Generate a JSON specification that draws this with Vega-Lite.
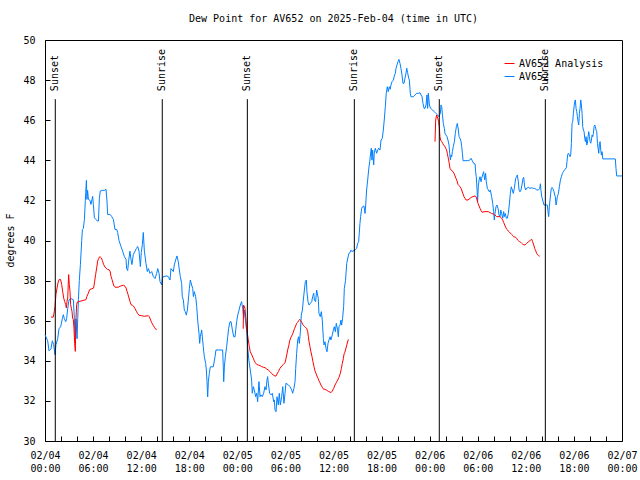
{
  "$schema": "https://vega.github.io/schema/vega-lite/v6.json",
  "width": 577,
  "height": 401,
  "autosize": {"type": "none"},
  "padding": {"left": 45, "top": 40, "right": 18, "bottom": 39},
  "background": "white",
  "config": {
    "font": "DejaVu Sans Mono",
    "view": {"stroke": "black", "strokeWidth": 1},
    "axis": {"labelFont": "DejaVu Sans Mono", "labelFontSize": 10, "labelColor": "black", "tickColor": "black", "tickSize": -5, "grid": false, "domain": false, "titleFont": "DejaVu Sans Mono", "titleFontSize": 10, "titleFontWeight": "normal", "titleColor": "black"},
    "legend": {"labelFont": "DejaVu Sans Mono", "labelFontSize": 10, "labelColor": "black"}
  },
  "title": {"text": "Dew Point for AV652 on 2025-Feb-04 (time in UTC)", "font": "DejaVu Sans Mono", "fontSize": 10, "fontWeight": "normal", "color": "black", "anchor": "middle", "offset": 11},
  "datasets": {
    "analysis": [
      {"seg": 1, "t": "2025-02-04T00:45Z", "v": 36.18}, {"seg": 1, "t": "2025-02-04T01:02Z", "v": 36.18}, {"seg": 1, "t": "2025-02-04T01:10Z", "v": 36.47}, {"seg": 1, "t": "2025-02-04T01:15Z", "v": 36.72}, {"seg": 1, "t": "2025-02-04T01:22Z", "v": 37.3}, {"seg": 1, "t": "2025-02-04T01:30Z", "v": 37.63}, {"seg": 1, "t": "2025-02-04T01:37Z", "v": 37.88}, {"seg": 1, "t": "2025-02-04T01:45Z", "v": 38.05}, {"seg": 1, "t": "2025-02-04T01:57Z", "v": 38.05}, {"seg": 1, "t": "2025-02-04T02:05Z", "v": 37.8}, {"seg": 1, "t": "2025-02-04T02:12Z", "v": 37.47}, {"seg": 1, "t": "2025-02-04T02:20Z", "v": 37.13}, {"seg": 1, "t": "2025-02-04T02:27Z", "v": 36.97}, {"seg": 1, "t": "2025-02-04T02:35Z", "v": 36.8}, {"seg": 1, "t": "2025-02-04T02:40Z", "v": 36.63}, {"seg": 1, "t": "2025-02-04T02:45Z", "v": 36.97}, {"seg": 1, "t": "2025-02-04T02:50Z", "v": 37.13}, {"seg": 1, "t": "2025-02-04T02:57Z", "v": 38.3}, {"seg": 1, "t": "2025-02-04T03:02Z", "v": 37.8}, {"seg": 1, "t": "2025-02-04T03:07Z", "v": 37.47}, {"seg": 1, "t": "2025-02-04T03:12Z", "v": 36.8}, {"seg": 1, "t": "2025-02-04T03:17Z", "v": 36.63}, {"seg": 1, "t": "2025-02-04T03:22Z", "v": 36.47}, {"seg": 1, "t": "2025-02-04T03:27Z", "v": 36.13}, {"seg": 1, "t": "2025-02-04T03:32Z", "v": 36.05}, {"seg": 1, "t": "2025-02-04T03:37Z", "v": 35.63}, {"seg": 1, "t": "2025-02-04T03:42Z", "v": 34.88}, {"seg": 1, "t": "2025-02-04T03:47Z", "v": 34.47}, {"seg": 1, "t": "2025-02-04T03:52Z", "v": 36.13}, {"seg": 1, "t": "2025-02-04T03:57Z", "v": 36.8}, {"seg": 1, "t": "2025-02-04T04:02Z", "v": 36.93}, {"seg": 1, "t": "2025-02-04T05:07Z", "v": 37.05}, {"seg": 1, "t": "2025-02-04T05:14Z", "v": 37.22}, {"seg": 1, "t": "2025-02-04T05:25Z", "v": 37.38}, {"seg": 1, "t": "2025-02-04T05:34Z", "v": 37.55}, {"seg": 1, "t": "2025-02-04T06:04Z", "v": 37.63}, {"seg": 1, "t": "2025-02-04T06:12Z", "v": 37.97}, {"seg": 1, "t": "2025-02-04T06:19Z", "v": 38.3}, {"seg": 1, "t": "2025-02-04T06:27Z", "v": 38.63}, {"seg": 1, "t": "2025-02-04T06:34Z", "v": 38.97}, {"seg": 1, "t": "2025-02-04T06:42Z", "v": 39.1}, {"seg": 1, "t": "2025-02-04T06:47Z", "v": 39.18}, {"seg": 1, "t": "2025-02-04T06:54Z", "v": 39.18}, {"seg": 1, "t": "2025-02-04T07:02Z", "v": 39.13}, {"seg": 1, "t": "2025-02-04T07:09Z", "v": 39.0}, {"seg": 1, "t": "2025-02-04T07:19Z", "v": 38.8}, {"seg": 1, "t": "2025-02-04T07:29Z", "v": 38.67}, {"seg": 1, "t": "2025-02-04T07:49Z", "v": 38.55}, {"seg": 1, "t": "2025-02-04T07:59Z", "v": 38.55}, {"seg": 1, "t": "2025-02-04T08:07Z", "v": 38.47}, {"seg": 1, "t": "2025-02-04T08:14Z", "v": 38.22}, {"seg": 1, "t": "2025-02-04T08:22Z", "v": 38.05}, {"seg": 1, "t": "2025-02-04T08:29Z", "v": 37.88}, {"seg": 1, "t": "2025-02-04T08:37Z", "v": 37.72}, {"seg": 1, "t": "2025-02-04T08:44Z", "v": 37.67}, {"seg": 1, "t": "2025-02-04T09:09Z", "v": 37.67}, {"seg": 1, "t": "2025-02-04T09:22Z", "v": 37.72}, {"seg": 1, "t": "2025-02-04T09:47Z", "v": 37.77}, {"seg": 1, "t": "2025-02-04T09:59Z", "v": 37.72}, {"seg": 1, "t": "2025-02-04T10:07Z", "v": 37.63}, {"seg": 1, "t": "2025-02-04T10:14Z", "v": 37.47}, {"seg": 1, "t": "2025-02-04T10:22Z", "v": 37.3}, {"seg": 1, "t": "2025-02-04T10:29Z", "v": 37.13}, {"seg": 1, "t": "2025-02-04T10:36Z", "v": 36.97}, {"seg": 1, "t": "2025-02-04T10:44Z", "v": 36.8}, {"seg": 1, "t": "2025-02-04T10:54Z", "v": 36.77}, {"seg": 1, "t": "2025-02-04T11:04Z", "v": 36.72}, {"seg": 1, "t": "2025-02-04T11:14Z", "v": 36.6}, {"seg": 1, "t": "2025-02-04T11:24Z", "v": 36.47}, {"seg": 1, "t": "2025-02-04T11:34Z", "v": 36.35}, {"seg": 1, "t": "2025-02-04T11:44Z", "v": 36.27}, {"seg": 1, "t": "2025-02-04T12:04Z", "v": 36.25}, {"seg": 1, "t": "2025-02-04T12:24Z", "v": 36.22}, {"seg": 1, "t": "2025-02-04T12:54Z", "v": 36.25}, {"seg": 1, "t": "2025-02-04T13:01Z", "v": 36.2}, {"seg": 1, "t": "2025-02-04T13:11Z", "v": 36.03}, {"seg": 1, "t": "2025-02-04T13:19Z", "v": 35.9}, {"seg": 1, "t": "2025-02-04T13:29Z", "v": 35.78}, {"seg": 1, "t": "2025-02-04T13:39Z", "v": 35.67}, {"seg": 1, "t": "2025-02-04T13:49Z", "v": 35.57}, {"seg": 1, "t": "2025-02-04T13:56Z", "v": 35.57},
      {"seg": 2, "t": "2025-02-05T00:44Z", "v": 35.6}, {"seg": 2, "t": "2025-02-05T00:47Z", "v": 36.78}, {"seg": 2, "t": "2025-02-05T00:57Z", "v": 36.62}, {"seg": 2, "t": "2025-02-05T01:05Z", "v": 36.03}, {"seg": 2, "t": "2025-02-05T01:10Z", "v": 35.54}, {"seg": 2, "t": "2025-02-05T01:15Z", "v": 35.37}, {"seg": 2, "t": "2025-02-05T01:22Z", "v": 35.04}, {"seg": 2, "t": "2025-02-05T01:30Z", "v": 34.7}, {"seg": 2, "t": "2025-02-05T01:37Z", "v": 34.45}, {"seg": 2, "t": "2025-02-05T01:45Z", "v": 34.34}, {"seg": 2, "t": "2025-02-05T01:52Z", "v": 34.24}, {"seg": 2, "t": "2025-02-05T02:00Z", "v": 34.12}, {"seg": 2, "t": "2025-02-05T02:07Z", "v": 34.0}, {"seg": 2, "t": "2025-02-05T02:15Z", "v": 33.9}, {"seg": 2, "t": "2025-02-05T02:25Z", "v": 33.82}, {"seg": 2, "t": "2025-02-05T02:37Z", "v": 33.79}, {"seg": 2, "t": "2025-02-05T02:50Z", "v": 33.76}, {"seg": 2, "t": "2025-02-05T03:02Z", "v": 33.71}, {"seg": 2, "t": "2025-02-05T03:14Z", "v": 33.68}, {"seg": 2, "t": "2025-02-05T03:27Z", "v": 33.66}, {"seg": 2, "t": "2025-02-05T03:40Z", "v": 33.59}, {"seg": 2, "t": "2025-02-05T03:52Z", "v": 33.54}, {"seg": 2, "t": "2025-02-05T04:05Z", "v": 33.46}, {"seg": 2, "t": "2025-02-05T04:17Z", "v": 33.37}, {"seg": 2, "t": "2025-02-05T04:29Z", "v": 33.29}, {"seg": 2, "t": "2025-02-05T04:42Z", "v": 33.24}, {"seg": 2, "t": "2025-02-05T04:49Z", "v": 33.24}, {"seg": 2, "t": "2025-02-05T04:57Z", "v": 33.34}, {"seg": 2, "t": "2025-02-05T05:07Z", "v": 33.46}, {"seg": 2, "t": "2025-02-05T05:19Z", "v": 33.62}, {"seg": 2, "t": "2025-02-05T05:32Z", "v": 33.74}, {"seg": 2, "t": "2025-02-05T05:44Z", "v": 33.81}, {"seg": 2, "t": "2025-02-05T05:57Z", "v": 33.91}, {"seg": 2, "t": "2025-02-05T06:02Z", "v": 34.04}, {"seg": 2, "t": "2025-02-05T06:10Z", "v": 34.29}, {"seg": 2, "t": "2025-02-05T06:17Z", "v": 34.54}, {"seg": 2, "t": "2025-02-05T06:25Z", "v": 34.75}, {"seg": 2, "t": "2025-02-05T06:32Z", "v": 35.0}, {"seg": 2, "t": "2025-02-05T06:40Z", "v": 35.15}, {"seg": 2, "t": "2025-02-05T06:47Z", "v": 35.24}, {"seg": 2, "t": "2025-02-05T06:54Z", "v": 35.34}, {"seg": 2, "t": "2025-02-05T07:02Z", "v": 35.49}, {"seg": 2, "t": "2025-02-05T07:09Z", "v": 35.62}, {"seg": 2, "t": "2025-02-05T07:17Z", "v": 35.74}, {"seg": 2, "t": "2025-02-05T07:24Z", "v": 35.87}, {"seg": 2, "t": "2025-02-05T07:32Z", "v": 35.92}, {"seg": 2, "t": "2025-02-05T07:39Z", "v": 36.0}, {"seg": 2, "t": "2025-02-05T07:47Z", "v": 36.07}, {"seg": 2, "t": "2025-02-05T07:54Z", "v": 36.0}, {"seg": 2, "t": "2025-02-05T08:02Z", "v": 35.92}, {"seg": 2, "t": "2025-02-05T08:09Z", "v": 35.82}, {"seg": 2, "t": "2025-02-05T08:17Z", "v": 35.75}, {"seg": 2, "t": "2025-02-05T08:24Z", "v": 35.7}, {"seg": 2, "t": "2025-02-05T08:32Z", "v": 35.65}, {"seg": 2, "t": "2025-02-05T08:39Z", "v": 35.62}, {"seg": 2, "t": "2025-02-05T08:47Z", "v": 35.45}, {"seg": 2, "t": "2025-02-05T08:52Z", "v": 35.2}, {"seg": 2, "t": "2025-02-05T08:57Z", "v": 34.95}, {"seg": 2, "t": "2025-02-05T09:04Z", "v": 34.7}, {"seg": 2, "t": "2025-02-05T09:11Z", "v": 34.45}, {"seg": 2, "t": "2025-02-05T09:19Z", "v": 34.21}, {"seg": 2, "t": "2025-02-05T09:26Z", "v": 33.96}, {"seg": 2, "t": "2025-02-05T09:34Z", "v": 33.71}, {"seg": 2, "t": "2025-02-05T09:41Z", "v": 33.51}, {"seg": 2, "t": "2025-02-05T09:49Z", "v": 33.37}, {"seg": 2, "t": "2025-02-05T09:56Z", "v": 33.24}, {"seg": 2, "t": "2025-02-05T10:04Z", "v": 33.13}, {"seg": 2, "t": "2025-02-05T10:11Z", "v": 33.01}, {"seg": 2, "t": "2025-02-05T10:19Z", "v": 32.9}, {"seg": 2, "t": "2025-02-05T10:26Z", "v": 32.79}, {"seg": 2, "t": "2025-02-05T10:36Z", "v": 32.68}, {"seg": 2, "t": "2025-02-05T10:46Z", "v": 32.58}, {"seg": 2, "t": "2025-02-05T10:56Z", "v": 32.58}, {"seg": 2, "t": "2025-02-05T11:09Z", "v": 32.53}, {"seg": 2, "t": "2025-02-05T11:21Z", "v": 32.48}, {"seg": 2, "t": "2025-02-05T11:34Z", "v": 32.44}, {"seg": 2, "t": "2025-02-05T11:41Z", "v": 32.41}, {"seg": 2, "t": "2025-02-05T11:51Z", "v": 32.49}, {"seg": 2, "t": "2025-02-05T12:01Z", "v": 32.62}, {"seg": 2, "t": "2025-02-05T12:11Z", "v": 32.79}, {"seg": 2, "t": "2025-02-05T12:21Z", "v": 32.91}, {"seg": 2, "t": "2025-02-05T12:31Z", "v": 33.04}, {"seg": 2, "t": "2025-02-05T12:41Z", "v": 33.17}, {"seg": 2, "t": "2025-02-05T12:51Z", "v": 33.37}, {"seg": 2, "t": "2025-02-05T12:59Z", "v": 33.62}, {"seg": 2, "t": "2025-02-05T13:06Z", "v": 33.87}, {"seg": 2, "t": "2025-02-05T13:14Z", "v": 34.12}, {"seg": 2, "t": "2025-02-05T13:19Z", "v": 34.34}, {"seg": 2, "t": "2025-02-05T13:24Z", "v": 34.4}, {"seg": 2, "t": "2025-02-05T13:40Z", "v": 34.8}, {"seg": 2, "t": "2025-02-05T13:51Z", "v": 35.07},
      {"seg": 3, "t": "2025-02-06T00:40Z", "v": 44.93}, {"seg": 3, "t": "2025-02-06T00:45Z", "v": 46.01}, {"seg": 3, "t": "2025-02-06T00:52Z", "v": 46.26}, {"seg": 3, "t": "2025-02-06T01:00Z", "v": 46.1}, {"seg": 3, "t": "2025-02-06T01:07Z", "v": 45.93}, {"seg": 3, "t": "2025-02-06T01:12Z", "v": 45.68}, {"seg": 3, "t": "2025-02-06T01:17Z", "v": 45.18}, {"seg": 3, "t": "2025-02-06T01:22Z", "v": 45.01}, {"seg": 3, "t": "2025-02-06T01:30Z", "v": 44.93}, {"seg": 3, "t": "2025-02-06T01:37Z", "v": 44.85}, {"seg": 3, "t": "2025-02-06T01:45Z", "v": 44.76}, {"seg": 3, "t": "2025-02-06T01:52Z", "v": 44.71}, {"seg": 3, "t": "2025-02-06T02:00Z", "v": 44.6}, {"seg": 3, "t": "2025-02-06T02:07Z", "v": 44.51}, {"seg": 3, "t": "2025-02-06T02:12Z", "v": 44.35}, {"seg": 3, "t": "2025-02-06T02:17Z", "v": 44.18}, {"seg": 3, "t": "2025-02-06T02:22Z", "v": 44.02}, {"seg": 3, "t": "2025-02-06T02:27Z", "v": 43.82}, {"seg": 3, "t": "2025-02-06T02:32Z", "v": 43.6}, {"seg": 3, "t": "2025-02-06T02:40Z", "v": 43.52}, {"seg": 3, "t": "2025-02-06T02:55Z", "v": 43.43}, {"seg": 3, "t": "2025-02-06T03:02Z", "v": 43.35}, {"seg": 3, "t": "2025-02-06T03:10Z", "v": 43.22}, {"seg": 3, "t": "2025-02-06T03:17Z", "v": 43.1}, {"seg": 3, "t": "2025-02-06T03:25Z", "v": 42.97}, {"seg": 3, "t": "2025-02-06T03:32Z", "v": 42.8}, {"seg": 3, "t": "2025-02-06T03:40Z", "v": 42.74}, {"seg": 3, "t": "2025-02-06T03:47Z", "v": 42.68}, {"seg": 3, "t": "2025-02-06T03:55Z", "v": 42.6}, {"seg": 3, "t": "2025-02-06T04:02Z", "v": 42.47}, {"seg": 3, "t": "2025-02-06T04:10Z", "v": 42.32}, {"seg": 3, "t": "2025-02-06T04:17Z", "v": 42.19}, {"seg": 3, "t": "2025-02-06T04:25Z", "v": 42.1}, {"seg": 3, "t": "2025-02-06T04:32Z", "v": 42.02}, {"seg": 3, "t": "2025-02-06T04:47Z", "v": 42.02}, {"seg": 3, "t": "2025-02-06T05:02Z", "v": 42.1}, {"seg": 3, "t": "2025-02-06T05:10Z", "v": 42.15}, {"seg": 3, "t": "2025-02-06T05:25Z", "v": 42.19}, {"seg": 3, "t": "2025-02-06T05:40Z", "v": 42.22}, {"seg": 3, "t": "2025-02-06T05:47Z", "v": 42.19}, {"seg": 3, "t": "2025-02-06T05:55Z", "v": 42.02}, {"seg": 3, "t": "2025-02-06T06:02Z", "v": 41.85}, {"seg": 3, "t": "2025-02-06T06:10Z", "v": 41.72}, {"seg": 3, "t": "2025-02-06T06:17Z", "v": 41.6}, {"seg": 3, "t": "2025-02-06T06:25Z", "v": 41.49}, {"seg": 3, "t": "2025-02-06T06:32Z", "v": 41.41}, {"seg": 3, "t": "2025-02-06T06:54Z", "v": 41.44}, {"seg": 3, "t": "2025-02-06T07:19Z", "v": 41.44}, {"seg": 3, "t": "2025-02-06T07:32Z", "v": 41.39}, {"seg": 3, "t": "2025-02-06T07:44Z", "v": 41.35}, {"seg": 3, "t": "2025-02-06T07:57Z", "v": 41.32}, {"seg": 3, "t": "2025-02-06T08:09Z", "v": 41.27}, {"seg": 3, "t": "2025-02-06T08:22Z", "v": 41.19}, {"seg": 3, "t": "2025-02-06T08:47Z", "v": 41.19}, {"seg": 3, "t": "2025-02-06T08:59Z", "v": 41.1}, {"seg": 3, "t": "2025-02-06T09:07Z", "v": 41.02}, {"seg": 3, "t": "2025-02-06T09:14Z", "v": 40.9}, {"seg": 3, "t": "2025-02-06T09:22Z", "v": 40.77}, {"seg": 3, "t": "2025-02-06T09:29Z", "v": 40.66}, {"seg": 3, "t": "2025-02-06T09:37Z", "v": 40.56}, {"seg": 3, "t": "2025-02-06T09:44Z", "v": 40.52}, {"seg": 3, "t": "2025-02-06T09:52Z", "v": 40.44}, {"seg": 3, "t": "2025-02-06T09:59Z", "v": 40.39}, {"seg": 3, "t": "2025-02-06T10:07Z", "v": 40.36}, {"seg": 3, "t": "2025-02-06T10:14Z", "v": 40.31}, {"seg": 3, "t": "2025-02-06T10:22Z", "v": 40.24}, {"seg": 3, "t": "2025-02-06T10:29Z", "v": 40.19}, {"seg": 3, "t": "2025-02-06T10:44Z", "v": 40.16}, {"seg": 3, "t": "2025-02-06T10:51Z", "v": 40.11}, {"seg": 3, "t": "2025-02-06T10:59Z", "v": 40.02}, {"seg": 3, "t": "2025-02-06T11:07Z", "v": 39.97}, {"seg": 3, "t": "2025-02-06T11:14Z", "v": 39.94}, {"seg": 3, "t": "2025-02-06T11:22Z", "v": 39.91}, {"seg": 3, "t": "2025-02-06T11:29Z", "v": 39.86}, {"seg": 3, "t": "2025-02-06T11:37Z", "v": 39.81}, {"seg": 3, "t": "2025-02-06T11:46Z", "v": 39.78}, {"seg": 3, "t": "2025-02-06T11:54Z", "v": 39.78}, {"seg": 3, "t": "2025-02-06T12:06Z", "v": 39.86}, {"seg": 3, "t": "2025-02-06T12:21Z", "v": 39.94}, {"seg": 3, "t": "2025-02-06T12:36Z", "v": 40.02}, {"seg": 3, "t": "2025-02-06T12:44Z", "v": 40.06}, {"seg": 3, "t": "2025-02-06T12:51Z", "v": 39.94}, {"seg": 3, "t": "2025-02-06T12:59Z", "v": 39.78}, {"seg": 3, "t": "2025-02-06T13:06Z", "v": 39.61}, {"seg": 3, "t": "2025-02-06T13:14Z", "v": 39.49}, {"seg": 3, "t": "2025-02-06T13:21Z", "v": 39.36}, {"seg": 3, "t": "2025-02-06T13:29Z", "v": 39.28}, {"seg": 3, "t": "2025-02-06T13:36Z", "v": 39.24}, {"seg": 3, "t": "2025-02-06T13:44Z", "v": 39.22}
    ],
    "obs": [
      {"t": "2025-02-04T00:00Z", "v": 35.3}, {"t": "2025-02-04T00:20Z", "v": 35.0}, {"t": "2025-02-04T00:30Z", "v": 34.5}, {"t": "2025-02-04T00:45Z", "v": 34.6}, {"t": "2025-02-04T00:55Z", "v": 35.0}, {"t": "2025-02-04T01:05Z", "v": 34.8}, {"t": "2025-02-04T01:15Z", "v": 34.3}, {"t": "2025-02-04T01:22Z", "v": 34.8}, {"t": "2025-02-04T01:35Z", "v": 35.1}, {"t": "2025-02-04T01:45Z", "v": 35.6}, {"t": "2025-02-04T01:57Z", "v": 35.7}, {"t": "2025-02-04T02:10Z", "v": 36.1}, {"t": "2025-02-04T02:17Z", "v": 36.3}, {"t": "2025-02-04T02:25Z", "v": 36.1}, {"t": "2025-02-04T02:35Z", "v": 35.95}, {"t": "2025-02-04T02:42Z", "v": 36.1}, {"t": "2025-02-04T02:50Z", "v": 36.6}, {"t": "2025-02-04T03:00Z", "v": 37.05}, {"t": "2025-02-04T03:15Z", "v": 37.1}, {"t": "2025-02-04T03:32Z", "v": 37.05}, {"t": "2025-02-04T03:40Z", "v": 36.1}, {"t": "2025-02-04T03:45Z", "v": 35.1}, {"t": "2025-02-04T03:52Z", "v": 36.1}, {"t": "2025-02-04T04:00Z", "v": 35.1}, {"t": "2025-02-04T04:05Z", "v": 36.1}, {"t": "2025-02-04T04:10Z", "v": 37.05}, {"t": "2025-02-04T04:17Z", "v": 38.0}, {"t": "2025-02-04T04:25Z", "v": 38.8}, {"t": "2025-02-04T04:35Z", "v": 40.0}, {"t": "2025-02-04T04:40Z", "v": 40.55}, {"t": "2025-02-04T04:47Z", "v": 40.6}, {"t": "2025-02-04T04:55Z", "v": 41.05}, {"t": "2025-02-04T05:02Z", "v": 42.0}, {"t": "2025-02-04T05:10Z", "v": 43.0}, {"t": "2025-02-04T05:14Z", "v": 42.05}, {"t": "2025-02-04T05:19Z", "v": 42.5}, {"t": "2025-02-04T05:25Z", "v": 42.05}, {"t": "2025-02-04T05:37Z", "v": 42.0}, {"t": "2025-02-04T05:44Z", "v": 41.8}, {"t": "2025-02-04T05:52Z", "v": 42.05}, {"t": "2025-02-04T05:57Z", "v": 42.2}, {"t": "2025-02-04T06:02Z", "v": 41.8}, {"t": "2025-02-04T06:10Z", "v": 41.13}, {"t": "2025-02-04T06:22Z", "v": 41.05}, {"t": "2025-02-04T06:32Z", "v": 40.97}, {"t": "2025-02-04T06:40Z", "v": 40.97}, {"t": "2025-02-04T06:47Z", "v": 42.1}, {"t": "2025-02-04T06:54Z", "v": 42.47}, {"t": "2025-02-04T07:09Z", "v": 42.5}, {"t": "2025-02-04T07:24Z", "v": 42.5}, {"t": "2025-02-04T07:37Z", "v": 42.55}, {"t": "2025-02-04T07:44Z", "v": 41.97}, {"t": "2025-02-04T07:49Z", "v": 41.3}, {"t": "2025-02-04T08:07Z", "v": 41.3}, {"t": "2025-02-04T08:19Z", "v": 41.2}, {"t": "2025-02-04T08:32Z", "v": 41.05}, {"t": "2025-02-04T08:44Z", "v": 40.55}, {"t": "2025-02-04T08:57Z", "v": 40.55}, {"t": "2025-02-04T09:04Z", "v": 40.4}, {"t": "2025-02-04T09:14Z", "v": 40.0}, {"t": "2025-02-04T09:29Z", "v": 39.7}, {"t": "2025-02-04T09:41Z", "v": 39.47}, {"t": "2025-02-04T09:54Z", "v": 39.2}, {"t": "2025-02-04T10:07Z", "v": 39.05}, {"t": "2025-02-04T10:11Z", "v": 38.6}, {"t": "2025-02-04T10:19Z", "v": 38.5}, {"t": "2025-02-04T10:26Z", "v": 38.97}, {"t": "2025-02-04T10:36Z", "v": 39.47}, {"t": "2025-02-04T10:44Z", "v": 39.05}, {"t": "2025-02-04T10:51Z", "v": 38.8}, {"t": "2025-02-04T11:01Z", "v": 39.3}, {"t": "2025-02-04T11:14Z", "v": 39.47}, {"t": "2025-02-04T11:24Z", "v": 39.6}, {"t": "2025-02-04T11:34Z", "v": 39.7}, {"t": "2025-02-04T11:44Z", "v": 39.47}, {"t": "2025-02-04T11:54Z", "v": 38.7}, {"t": "2025-02-04T12:01Z", "v": 39.4}, {"t": "2025-02-04T12:09Z", "v": 39.8}, {"t": "2025-02-04T12:16Z", "v": 40.4}, {"t": "2025-02-04T12:24Z", "v": 39.47}, {"t": "2025-02-04T12:36Z", "v": 38.86}, {"t": "2025-02-04T12:46Z", "v": 38.45}, {"t": "2025-02-04T12:54Z", "v": 38.6}, {"t": "2025-02-04T13:06Z", "v": 38.36}, {"t": "2025-02-04T13:19Z", "v": 38.45}, {"t": "2025-02-04T13:31Z", "v": 38.2}, {"t": "2025-02-04T13:44Z", "v": 38.1}, {"t": "2025-02-04T13:56Z", "v": 38.36}, {"t": "2025-02-04T14:04Z", "v": 38.6}, {"t": "2025-02-04T14:14Z", "v": 38.36}, {"t": "2025-02-04T14:21Z", "v": 37.95}, {"t": "2025-02-04T14:34Z", "v": 37.78}, {"t": "2025-02-04T14:39Z", "v": 38.1}, {"t": "2025-02-04T14:46Z", "v": 38.2}, {"t": "2025-02-04T15:11Z", "v": 38.23}, {"t": "2025-02-04T15:23Z", "v": 38.2}, {"t": "2025-02-04T15:36Z", "v": 38.03}, {"t": "2025-02-04T15:43Z", "v": 38.6}, {"t": "2025-02-04T16:01Z", "v": 38.45}, {"t": "2025-02-04T16:08Z", "v": 38.78}, {"t": "2025-02-04T16:18Z", "v": 39.03}, {"t": "2025-02-04T16:28Z", "v": 39.23}, {"t": "2025-02-04T16:38Z", "v": 38.94}, {"t": "2025-02-04T16:46Z", "v": 38.53}, {"t": "2025-02-04T16:53Z", "v": 38.2}, {"t": "2025-02-04T17:03Z", "v": 37.86}, {"t": "2025-02-04T17:08Z", "v": 37.2}, {"t": "2025-02-04T17:16Z", "v": 37.03}, {"t": "2025-02-04T17:23Z", "v": 36.53}, {"t": "2025-02-04T17:31Z", "v": 36.45}, {"t": "2025-02-04T17:38Z", "v": 36.28}, {"t": "2025-02-04T17:46Z", "v": 36.53}, {"t": "2025-02-04T17:53Z", "v": 37.03}, {"t": "2025-02-04T18:01Z", "v": 37.61}, {"t": "2025-02-04T18:08Z", "v": 38.03}, {"t": "2025-02-04T18:18Z", "v": 37.78}, {"t": "2025-02-04T18:26Z", "v": 37.61}, {"t": "2025-02-04T18:31Z", "v": 37.2}, {"t": "2025-02-04T18:38Z", "v": 37.45}, {"t": "2025-02-04T18:48Z", "v": 37.2}, {"t": "2025-02-04T18:56Z", "v": 36.7}, {"t": "2025-02-04T19:03Z", "v": 36.03}, {"t": "2025-02-04T19:13Z", "v": 35.37}, {"t": "2025-02-04T19:18Z", "v": 34.87}, {"t": "2025-02-04T19:23Z", "v": 35.2}, {"t": "2025-02-04T19:33Z", "v": 35.54}, {"t": "2025-02-04T19:38Z", "v": 35.2}, {"t": "2025-02-04T19:45Z", "v": 34.7}, {"t": "2025-02-04T19:53Z", "v": 34.2}, {"t": "2025-02-04T20:03Z", "v": 33.87}, {"t": "2025-02-04T20:08Z", "v": 33.54}, {"t": "2025-02-04T20:13Z", "v": 32.96}, {"t": "2025-02-04T20:18Z", "v": 32.2}, {"t": "2025-02-04T20:23Z", "v": 32.96}, {"t": "2025-02-04T20:30Z", "v": 33.37}, {"t": "2025-02-04T20:38Z", "v": 33.7}, {"t": "2025-02-04T21:00Z", "v": 33.7}, {"t": "2025-02-04T21:13Z", "v": 34.2}, {"t": "2025-02-04T21:20Z", "v": 34.54}, {"t": "2025-02-04T22:10Z", "v": 34.54}, {"t": "2025-02-04T22:15Z", "v": 33.7}, {"t": "2025-02-04T22:18Z", "v": 32.96}, {"t": "2025-02-04T22:23Z", "v": 33.7}, {"t": "2025-02-04T22:30Z", "v": 34.2}, {"t": "2025-02-04T22:40Z", "v": 34.7}, {"t": "2025-02-04T22:48Z", "v": 35.2}, {"t": "2025-02-04T22:55Z", "v": 35.62}, {"t": "2025-02-04T23:05Z", "v": 35.95}, {"t": "2025-02-04T23:13Z", "v": 35.95}, {"t": "2025-02-04T23:23Z", "v": 35.54}, {"t": "2025-02-04T23:33Z", "v": 35.2}, {"t": "2025-02-04T23:43Z", "v": 35.2}, {"t": "2025-02-04T23:48Z", "v": 35.54}, {"t": "2025-02-04T23:55Z", "v": 35.95},
      {"t": "2025-02-05T00:03Z", "v": 36.28}, {"t": "2025-02-05T00:13Z", "v": 36.53}, {"t": "2025-02-05T00:22Z", "v": 36.78}, {"t": "2025-02-05T00:32Z", "v": 36.95}, {"t": "2025-02-05T00:40Z", "v": 36.6}, {"t": "2025-02-05T00:47Z", "v": 36.12}, {"t": "2025-02-05T00:52Z", "v": 36.53}, {"t": "2025-02-05T01:10Z", "v": 35.5}, {"t": "2025-02-05T01:17Z", "v": 34.7}, {"t": "2025-02-05T01:27Z", "v": 34.0}, {"t": "2025-02-05T01:37Z", "v": 33.54}, {"t": "2025-02-05T01:47Z", "v": 33.04}, {"t": "2025-02-05T01:52Z", "v": 32.38}, {"t": "2025-02-05T02:00Z", "v": 32.71}, {"t": "2025-02-05T02:07Z", "v": 32.55}, {"t": "2025-02-05T02:17Z", "v": 32.21}, {"t": "2025-02-05T02:25Z", "v": 32.38}, {"t": "2025-02-05T02:32Z", "v": 31.96}, {"t": "2025-02-05T02:42Z", "v": 32.96}, {"t": "2025-02-05T02:50Z", "v": 32.21}, {"t": "2025-02-05T02:57Z", "v": 32.3}, {"t": "2025-02-05T03:07Z", "v": 32.21}, {"t": "2025-02-05T03:17Z", "v": 32.38}, {"t": "2025-02-05T03:27Z", "v": 32.71}, {"t": "2025-02-05T03:35Z", "v": 32.55}, {"t": "2025-02-05T03:42Z", "v": 33.04}, {"t": "2025-02-05T03:47Z", "v": 33.21}, {"t": "2025-02-05T03:52Z", "v": 32.88}, {"t": "2025-02-05T04:02Z", "v": 32.38}, {"t": "2025-02-05T04:12Z", "v": 32.3}, {"t": "2025-02-05T04:22Z", "v": 32.38}, {"t": "2025-02-05T04:32Z", "v": 31.96}, {"t": "2025-02-05T04:37Z", "v": 32.05}, {"t": "2025-02-05T04:42Z", "v": 31.55}, {"t": "2025-02-05T04:50Z", "v": 31.46}, {"t": "2025-02-05T04:57Z", "v": 32.21}, {"t": "2025-02-05T05:07Z", "v": 31.8}, {"t": "2025-02-05T05:14Z", "v": 32.38}, {"t": "2025-02-05T05:22Z", "v": 31.8}, {"t": "2025-02-05T05:32Z", "v": 32.21}, {"t": "2025-02-05T05:40Z", "v": 32.71}, {"t": "2025-02-05T05:49Z", "v": 31.88}, {"t": "2025-02-05T05:57Z", "v": 32.38}, {"t": "2025-02-05T06:04Z", "v": 32.88}, {"t": "2025-02-05T06:22Z", "v": 32.8}, {"t": "2025-02-05T06:34Z", "v": 32.71}, {"t": "2025-02-05T06:47Z", "v": 32.55}, {"t": "2025-02-05T06:54Z", "v": 32.38}, {"t": "2025-02-05T07:04Z", "v": 32.63}, {"t": "2025-02-05T07:12Z", "v": 32.96}, {"t": "2025-02-05T07:17Z", "v": 33.62}, {"t": "2025-02-05T07:24Z", "v": 34.37}, {"t": "2025-02-05T07:32Z", "v": 35.04}, {"t": "2025-02-05T07:39Z", "v": 35.2}, {"t": "2025-02-05T07:44Z", "v": 34.87}, {"t": "2025-02-05T07:52Z", "v": 35.45}, {"t": "2025-02-05T07:59Z", "v": 36.28}, {"t": "2025-02-05T08:07Z", "v": 36.53}, {"t": "2025-02-05T08:14Z", "v": 37.03}, {"t": "2025-02-05T08:22Z", "v": 37.53}, {"t": "2025-02-05T08:29Z", "v": 37.95}, {"t": "2025-02-05T08:37Z", "v": 38.03}, {"t": "2025-02-05T08:41Z", "v": 37.45}, {"t": "2025-02-05T08:49Z", "v": 36.95}, {"t": "2025-02-05T08:57Z", "v": 36.78}, {"t": "2025-02-05T09:07Z", "v": 36.87}, {"t": "2025-02-05T09:17Z", "v": 36.95}, {"t": "2025-02-05T09:24Z", "v": 37.2}, {"t": "2025-02-05T09:32Z", "v": 37.37}, {"t": "2025-02-05T09:37Z", "v": 37.03}, {"t": "2025-02-05T09:46Z", "v": 36.95}, {"t": "2025-02-05T09:54Z", "v": 37.53}, {"t": "2025-02-05T10:01Z", "v": 37.28}, {"t": "2025-02-05T10:06Z", "v": 37.12}, {"t": "2025-02-05T10:11Z", "v": 36.37}, {"t": "2025-02-05T10:21Z", "v": 36.2}, {"t": "2025-02-05T10:29Z", "v": 36.45}, {"t": "2025-02-05T10:36Z", "v": 36.03}, {"t": "2025-02-05T10:44Z", "v": 35.12}, {"t": "2025-02-05T10:49Z", "v": 34.79}, {"t": "2025-02-05T10:56Z", "v": 34.95}, {"t": "2025-02-05T11:04Z", "v": 34.62}, {"t": "2025-02-05T11:11Z", "v": 34.45}, {"t": "2025-02-05T11:19Z", "v": 34.87}, {"t": "2025-02-05T11:26Z", "v": 35.04}, {"t": "2025-02-05T11:34Z", "v": 35.2}, {"t": "2025-02-05T11:41Z", "v": 35.04}, {"t": "2025-02-05T11:51Z", "v": 35.29}, {"t": "2025-02-05T11:59Z", "v": 35.54}, {"t": "2025-02-05T12:06Z", "v": 35.7}, {"t": "2025-02-05T12:14Z", "v": 35.45}, {"t": "2025-02-05T12:21Z", "v": 35.87}, {"t": "2025-02-05T12:31Z", "v": 35.54}, {"t": "2025-02-05T12:36Z", "v": 35.2}, {"t": "2025-02-05T12:41Z", "v": 35.7}, {"t": "2025-02-05T12:49Z", "v": 35.78}, {"t": "2025-02-05T12:56Z", "v": 36.03}, {"t": "2025-02-05T13:01Z", "v": 35.78}, {"t": "2025-02-05T13:08Z", "v": 36.12}, {"t": "2025-02-05T13:16Z", "v": 36.7}, {"t": "2025-02-05T13:21Z", "v": 37.61}, {"t": "2025-02-05T13:30Z", "v": 38.0}, {"t": "2025-02-05T13:39Z", "v": 38.86}, {"t": "2025-02-05T13:55Z", "v": 39.36}, {"t": "2025-02-05T14:04Z", "v": 39.4}, {"t": "2025-02-05T14:11Z", "v": 39.52}, {"t": "2025-02-05T14:18Z", "v": 39.45}, {"t": "2025-02-05T14:41Z", "v": 39.52}, {"t": "2025-02-05T14:53Z", "v": 39.6}, {"t": "2025-02-05T15:01Z", "v": 39.86}, {"t": "2025-02-05T15:08Z", "v": 39.94}, {"t": "2025-02-05T15:13Z", "v": 40.36}, {"t": "2025-02-05T15:18Z", "v": 40.85}, {"t": "2025-02-05T15:23Z", "v": 41.19}, {"t": "2025-02-05T15:31Z", "v": 41.6}, {"t": "2025-02-05T15:38Z", "v": 41.69}, {"t": "2025-02-05T15:48Z", "v": 41.72}, {"t": "2025-02-05T15:56Z", "v": 41.35}, {"t": "2025-02-05T16:01Z", "v": 41.77}, {"t": "2025-02-05T16:08Z", "v": 42.52}, {"t": "2025-02-05T16:16Z", "v": 43.02}, {"t": "2025-02-05T16:23Z", "v": 43.52}, {"t": "2025-02-05T16:31Z", "v": 43.93}, {"t": "2025-02-05T16:38Z", "v": 44.35}, {"t": "2025-02-05T16:43Z", "v": 44.6}, {"t": "2025-02-05T16:48Z", "v": 44.01}, {"t": "2025-02-05T16:53Z", "v": 44.51}, {"t": "2025-02-05T17:01Z", "v": 43.77}, {"t": "2025-02-05T17:05Z", "v": 44.35}, {"t": "2025-02-05T17:13Z", "v": 44.6}, {"t": "2025-02-05T17:23Z", "v": 44.35}, {"t": "2025-02-05T17:31Z", "v": 44.51}, {"t": "2025-02-05T17:38Z", "v": 44.6}, {"t": "2025-02-05T17:48Z", "v": 44.51}, {"t": "2025-02-05T17:56Z", "v": 45.01}, {"t": "2025-02-05T18:05Z", "v": 45.09}, {"t": "2025-02-05T18:13Z", "v": 45.51}, {"t": "2025-02-05T18:20Z", "v": 46.01}, {"t": "2025-02-05T18:28Z", "v": 46.67}, {"t": "2025-02-05T18:35Z", "v": 47.34}, {"t": "2025-02-05T18:43Z", "v": 47.67}, {"t": "2025-02-05T18:50Z", "v": 47.42}, {"t": "2025-02-05T18:58Z", "v": 47.67}, {"t": "2025-02-05T19:05Z", "v": 47.54}, {"t": "2025-02-05T19:10Z", "v": 47.75}, {"t": "2025-02-05T19:18Z", "v": 47.92}, {"t": "2025-02-05T19:28Z", "v": 48.0}, {"t": "2025-02-05T19:35Z", "v": 48.2}, {"t": "2025-02-05T19:43Z", "v": 48.34}, {"t": "2025-02-05T19:48Z", "v": 48.59}, {"t": "2025-02-05T19:55Z", "v": 48.75}, {"t": "2025-02-05T20:03Z", "v": 48.92}, {"t": "2025-02-05T20:10Z", "v": 49.03}, {"t": "2025-02-05T20:18Z", "v": 48.83}, {"t": "2025-02-05T20:25Z", "v": 48.59}, {"t": "2025-02-05T20:33Z", "v": 48.25}, {"t": "2025-02-05T20:40Z", "v": 47.84}, {"t": "2025-02-05T20:48Z", "v": 47.84}, {"t": "2025-02-05T20:55Z", "v": 48.09}, {"t": "2025-02-05T21:03Z", "v": 48.34}, {"t": "2025-02-05T21:08Z", "v": 48.59}, {"t": "2025-02-05T21:15Z", "v": 48.37}, {"t": "2025-02-05T21:23Z", "v": 48.09}, {"t": "2025-02-05T21:28Z", "v": 48.0}, {"t": "2025-02-05T21:35Z", "v": 47.34}, {"t": "2025-02-05T21:40Z", "v": 47.17}, {"t": "2025-02-05T21:58Z", "v": 47.17}, {"t": "2025-02-05T22:10Z", "v": 47.26}, {"t": "2025-02-05T22:23Z", "v": 47.34}, {"t": "2025-02-05T22:35Z", "v": 47.34}, {"t": "2025-02-05T22:48Z", "v": 47.37}, {"t": "2025-02-05T22:55Z", "v": 47.26}, {"t": "2025-02-05T23:03Z", "v": 47.17}, {"t": "2025-02-05T23:10Z", "v": 46.84}, {"t": "2025-02-05T23:18Z", "v": 46.59}, {"t": "2025-02-05T23:25Z", "v": 46.59}, {"t": "2025-02-05T23:33Z", "v": 46.76}, {"t": "2025-02-05T23:40Z", "v": 47.26}, {"t": "2025-02-05T23:45Z", "v": 46.59}, {"t": "2025-02-05T23:50Z", "v": 47.34}, {"t": "2025-02-05T23:58Z", "v": 46.76},
      {"t": "2025-02-06T00:07Z", "v": 46.59}, {"t": "2025-02-06T00:22Z", "v": 46.51}, {"t": "2025-02-06T00:35Z", "v": 46.42}, {"t": "2025-02-06T00:47Z", "v": 46.34}, {"t": "2025-02-06T01:00Z", "v": 46.26}, {"t": "2025-02-06T01:10Z", "v": 46.18}, {"t": "2025-02-06T01:20Z", "v": 46.34}, {"t": "2025-02-06T01:25Z", "v": 46.76}, {"t": "2025-02-06T01:30Z", "v": 46.67}, {"t": "2025-02-06T01:35Z", "v": 46.34}, {"t": "2025-02-06T01:42Z", "v": 45.84}, {"t": "2025-02-06T01:50Z", "v": 45.59}, {"t": "2025-02-06T01:55Z", "v": 45.34}, {"t": "2025-02-06T02:02Z", "v": 45.26}, {"t": "2025-02-06T02:10Z", "v": 45.18}, {"t": "2025-02-06T02:17Z", "v": 45.01}, {"t": "2025-02-06T02:25Z", "v": 44.76}, {"t": "2025-02-06T02:30Z", "v": 44.35}, {"t": "2025-02-06T02:35Z", "v": 44.02}, {"t": "2025-02-06T02:40Z", "v": 44.26}, {"t": "2025-02-06T02:45Z", "v": 44.18}, {"t": "2025-02-06T02:50Z", "v": 44.43}, {"t": "2025-02-06T02:57Z", "v": 44.68}, {"t": "2025-02-06T03:05Z", "v": 44.93}, {"t": "2025-02-06T03:12Z", "v": 45.34}, {"t": "2025-02-06T03:20Z", "v": 45.68}, {"t": "2025-02-06T03:27Z", "v": 45.84}, {"t": "2025-02-06T03:35Z", "v": 45.51}, {"t": "2025-02-06T03:40Z", "v": 45.18}, {"t": "2025-02-06T03:47Z", "v": 45.1}, {"t": "2025-02-06T03:55Z", "v": 44.93}, {"t": "2025-02-06T04:00Z", "v": 44.68}, {"t": "2025-02-06T04:05Z", "v": 44.35}, {"t": "2025-02-06T04:10Z", "v": 43.98}, {"t": "2025-02-06T04:49Z", "v": 43.98}, {"t": "2025-02-06T05:02Z", "v": 44.02}, {"t": "2025-02-06T05:10Z", "v": 44.1}, {"t": "2025-02-06T05:19Z", "v": 43.98}, {"t": "2025-02-06T05:29Z", "v": 43.85}, {"t": "2025-02-06T05:40Z", "v": 43.82}, {"t": "2025-02-06T05:44Z", "v": 43.43}, {"t": "2025-02-06T05:49Z", "v": 43.18}, {"t": "2025-02-06T05:55Z", "v": 42.52}, {"t": "2025-02-06T05:59Z", "v": 41.94}, {"t": "2025-02-06T06:04Z", "v": 42.68}, {"t": "2025-02-06T06:10Z", "v": 43.02}, {"t": "2025-02-06T06:17Z", "v": 43.18}, {"t": "2025-02-06T06:25Z", "v": 42.93}, {"t": "2025-02-06T06:29Z", "v": 43.1}, {"t": "2025-02-06T06:37Z", "v": 43.27}, {"t": "2025-02-06T06:44Z", "v": 43.43}, {"t": "2025-02-06T06:52Z", "v": 43.02}, {"t": "2025-02-06T06:59Z", "v": 43.35}, {"t": "2025-02-06T07:04Z", "v": 42.93}, {"t": "2025-02-06T07:12Z", "v": 42.6}, {"t": "2025-02-06T07:19Z", "v": 42.52}, {"t": "2025-02-06T07:27Z", "v": 42.43}, {"t": "2025-02-06T07:34Z", "v": 42.52}, {"t": "2025-02-06T07:44Z", "v": 42.19}, {"t": "2025-02-06T07:52Z", "v": 41.85}, {"t": "2025-02-06T07:59Z", "v": 41.44}, {"t": "2025-02-06T08:04Z", "v": 41.02}, {"t": "2025-02-06T08:09Z", "v": 41.35}, {"t": "2025-02-06T08:17Z", "v": 41.69}, {"t": "2025-02-06T08:24Z", "v": 41.77}, {"t": "2025-02-06T08:32Z", "v": 41.6}, {"t": "2025-02-06T08:39Z", "v": 41.27}, {"t": "2025-02-06T08:47Z", "v": 41.19}, {"t": "2025-02-06T08:52Z", "v": 41.52}, {"t": "2025-02-06T08:59Z", "v": 41.35}, {"t": "2025-02-06T09:07Z", "v": 41.11}, {"t": "2025-02-06T09:14Z", "v": 41.44}, {"t": "2025-02-06T09:19Z", "v": 41.19}, {"t": "2025-02-06T09:26Z", "v": 41.35}, {"t": "2025-02-06T09:34Z", "v": 41.11}, {"t": "2025-02-06T09:41Z", "v": 41.11}, {"t": "2025-02-06T09:49Z", "v": 41.35}, {"t": "2025-02-06T09:56Z", "v": 41.77}, {"t": "2025-02-06T10:04Z", "v": 42.35}, {"t": "2025-02-06T10:11Z", "v": 42.68}, {"t": "2025-02-06T10:19Z", "v": 42.52}, {"t": "2025-02-06T10:26Z", "v": 42.35}, {"t": "2025-02-06T10:34Z", "v": 42.6}, {"t": "2025-02-06T10:39Z", "v": 42.85}, {"t": "2025-02-06T10:44Z", "v": 43.1}, {"t": "2025-02-06T10:51Z", "v": 43.18}, {"t": "2025-02-06T10:56Z", "v": 43.27}, {"t": "2025-02-06T11:04Z", "v": 42.93}, {"t": "2025-02-06T11:09Z", "v": 42.52}, {"t": "2025-02-06T11:16Z", "v": 42.43}, {"t": "2025-02-06T11:24Z", "v": 42.52}, {"t": "2025-02-06T11:31Z", "v": 42.77}, {"t": "2025-02-06T11:39Z", "v": 43.1}, {"t": "2025-02-06T11:44Z", "v": 43.15}, {"t": "2025-02-06T11:51Z", "v": 42.68}, {"t": "2025-02-06T11:59Z", "v": 42.52}, {"t": "2025-02-06T12:06Z", "v": 42.6}, {"t": "2025-02-06T12:19Z", "v": 42.65}, {"t": "2025-02-06T12:31Z", "v": 42.6}, {"t": "2025-02-06T12:44Z", "v": 42.63}, {"t": "2025-02-06T12:56Z", "v": 42.6}, {"t": "2025-02-06T13:08Z", "v": 42.6}, {"t": "2025-02-06T13:21Z", "v": 42.52}, {"t": "2025-02-06T13:34Z", "v": 42.52}, {"t": "2025-02-06T13:44Z", "v": 42.6}, {"t": "2025-02-06T13:49Z", "v": 42.83}, {"t": "2025-02-06T13:53Z", "v": 42.52}, {"t": "2025-02-06T13:59Z", "v": 42.19}, {"t": "2025-02-06T14:06Z", "v": 42.02}, {"t": "2025-02-06T14:16Z", "v": 41.77}, {"t": "2025-02-06T14:41Z", "v": 41.77}, {"t": "2025-02-06T14:46Z", "v": 41.44}, {"t": "2025-02-06T14:51Z", "v": 41.19}, {"t": "2025-02-06T14:56Z", "v": 41.69}, {"t": "2025-02-06T15:01Z", "v": 42.02}, {"t": "2025-02-06T15:06Z", "v": 42.35}, {"t": "2025-02-06T15:11Z", "v": 42.6}, {"t": "2025-02-06T15:16Z", "v": 42.65}, {"t": "2025-02-06T15:21Z", "v": 42.6}, {"t": "2025-02-06T15:26Z", "v": 42.52}, {"t": "2025-02-06T15:31Z", "v": 42.43}, {"t": "2025-02-06T15:36Z", "v": 42.27}, {"t": "2025-02-06T15:41Z", "v": 42.19}, {"t": "2025-02-06T15:46Z", "v": 41.77}, {"t": "2025-02-06T15:51Z", "v": 41.94}, {"t": "2025-02-06T15:56Z", "v": 42.19}, {"t": "2025-02-06T16:04Z", "v": 42.35}, {"t": "2025-02-06T16:11Z", "v": 42.68}, {"t": "2025-02-06T16:19Z", "v": 43.02}, {"t": "2025-02-06T16:26Z", "v": 43.18}, {"t": "2025-02-06T16:34Z", "v": 43.35}, {"t": "2025-02-06T16:41Z", "v": 43.43}, {"t": "2025-02-06T16:49Z", "v": 43.52}, {"t": "2025-02-06T16:56Z", "v": 43.55}, {"t": "2025-02-06T17:04Z", "v": 43.65}, {"t": "2025-02-06T17:08Z", "v": 43.93}, {"t": "2025-02-06T17:13Z", "v": 44.26}, {"t": "2025-02-06T17:18Z", "v": 44.35}, {"t": "2025-02-06T17:26Z", "v": 44.26}, {"t": "2025-02-06T17:31Z", "v": 44.18}, {"t": "2025-02-06T17:36Z", "v": 44.26}, {"t": "2025-02-06T17:41Z", "v": 44.85}, {"t": "2025-02-06T17:46Z", "v": 45.84}, {"t": "2025-02-06T17:51Z", "v": 45.93}, {"t": "2025-02-06T17:56Z", "v": 46.34}, {"t": "2025-02-06T18:01Z", "v": 46.67}, {"t": "2025-02-06T18:06Z", "v": 46.92}, {"t": "2025-02-06T18:11Z", "v": 47.01}, {"t": "2025-02-06T18:16Z", "v": 46.59}, {"t": "2025-02-06T18:21Z", "v": 46.43}, {"t": "2025-02-06T18:26Z", "v": 46.18}, {"t": "2025-02-06T18:31Z", "v": 45.93}, {"t": "2025-02-06T18:36Z", "v": 45.76}, {"t": "2025-02-06T18:41Z", "v": 46.34}, {"t": "2025-02-06T18:46Z", "v": 46.59}, {"t": "2025-02-06T18:51Z", "v": 47.01}, {"t": "2025-02-06T18:56Z", "v": 46.76}, {"t": "2025-02-06T19:01Z", "v": 46.34}, {"t": "2025-02-06T19:06Z", "v": 45.68}, {"t": "2025-02-06T19:11Z", "v": 45.51}, {"t": "2025-02-06T19:16Z", "v": 45.43}, {"t": "2025-02-06T19:21Z", "v": 45.1}, {"t": "2025-02-06T19:26Z", "v": 44.93}, {"t": "2025-02-06T19:31Z", "v": 45.18}, {"t": "2025-02-06T19:36Z", "v": 44.76}, {"t": "2025-02-06T19:41Z", "v": 44.85}, {"t": "2025-02-06T19:46Z", "v": 45.18}, {"t": "2025-02-06T19:51Z", "v": 45.43}, {"t": "2025-02-06T19:56Z", "v": 45.18}, {"t": "2025-02-06T20:01Z", "v": 44.93}, {"t": "2025-02-06T20:06Z", "v": 44.85}, {"t": "2025-02-06T20:11Z", "v": 45.01}, {"t": "2025-02-06T20:16Z", "v": 45.26}, {"t": "2025-02-06T20:21Z", "v": 45.18}, {"t": "2025-02-06T20:26Z", "v": 45.34}, {"t": "2025-02-06T20:31Z", "v": 45.68}, {"t": "2025-02-06T20:36Z", "v": 45.76}, {"t": "2025-02-06T20:41Z", "v": 45.68}, {"t": "2025-02-06T20:46Z", "v": 45.51}, {"t": "2025-02-06T20:51Z", "v": 45.43}, {"t": "2025-02-06T20:56Z", "v": 44.85}, {"t": "2025-02-06T21:01Z", "v": 44.6}, {"t": "2025-02-06T21:06Z", "v": 44.35}, {"t": "2025-02-06T21:11Z", "v": 44.85}, {"t": "2025-02-06T21:16Z", "v": 44.93}, {"t": "2025-02-06T21:21Z", "v": 44.51}, {"t": "2025-02-06T21:26Z", "v": 44.26}, {"t": "2025-02-06T21:31Z", "v": 44.43}, {"t": "2025-02-06T21:36Z", "v": 44.07}, {"t": "2025-02-06T23:10Z", "v": 44.07}, {"t": "2025-02-06T23:15Z", "v": 43.6}, {"t": "2025-02-06T23:20Z", "v": 43.22}, {"t": "2025-02-07T00:00Z", "v": 43.22}
    ],
    "events": [
      {"t": "2025-02-04T01:17Z", "e": "Sunset"}, {"t": "2025-02-04T14:38Z", "e": "Sunrise"},
      {"t": "2025-02-05T01:15Z", "e": "Sunset"}, {"t": "2025-02-05T14:36Z", "e": "Sunrise"},
      {"t": "2025-02-06T01:12Z", "e": "Sunset"}, {"t": "2025-02-06T14:26Z", "e": "Sunrise"}
    ]
  },
  "layer": [
    {
      "data": {"name": "obs"},
      "mark": {"type": "line", "strokeWidth": 1},
      "encoding": {
        "x": {"field": "t", "type": "temporal", "scale": {"nice": false},
          "axis": {"title": null, "tickCount": 37, "values": [1738627200000, 1738634400000, 1738641600000, 1738648800000, 1738656000000, 1738663200000, 1738670400000, 1738677600000, 1738684800000, 1738692000000, 1738699200000, 1738706400000, 1738713600000, 1738720800000, 1738728000000, 1738735200000, 1738742400000, 1738749600000, 1738756800000, 1738764000000, 1738771200000, 1738778400000, 1738785600000, 1738792800000, 1738800000000, 1738807200000, 1738814400000, 1738821600000, 1738828800000, 1738836000000, 1738843200000, 1738850400000, 1738857600000, 1738864800000, 1738872000000, 1738879200000, 1738886400000],
            "labelExpr": "hours(datum.value) % 6 == 0 ? [timeFormat(datum.value, '%m/%d'), timeFormat(datum.value, '%H:%M')] : ''", "labelPadding": 14, "labelLineHeight": 13, "labelFlush": false, "labelOverlap": false, "labelBound": false}},
        "y": {"field": "v", "type": "quantitative", "scale": {"domain": [30, 50], "nice": false, "zero": false},
          "axis": {"title": "degrees F", "values": [30, 32, 34, 36, 38, 40, 42, 44, 46, 48, 50], "labelPadding": 15, "labelFlush": false, "labelOverlap": false, "titleAngle": 270, "titleX": -35, "titleY": 200, "titleAlign": "center", "titleBaseline": "middle"}},
        "color": {"datum": "AV652", "type": "nominal", "scale": {"domain": ["AV652 Analysis", "AV652"], "range": ["#ff0000", "#0080ff"]},
          "legend": {"orient": "top-right", "title": null, "symbolType": "stroke", "symbolStrokeWidth": 1}}
      }
    },
    {
      "data": {"name": "analysis"},
      "mark": {"type": "line", "strokeWidth": 1},
      "encoding": {
        "x": {"field": "t", "type": "temporal"},
        "y": {"field": "v", "type": "quantitative"},
        "detail": {"field": "seg", "type": "nominal"},
        "color": {"datum": "AV652 Analysis", "type": "nominal"}
      }
    },
    {
      "data": {"name": "events"},
      "mark": {"type": "rule", "color": "black", "strokeWidth": 1},
      "encoding": {
        "x": {"field": "t", "type": "temporal"},
        "y": {"datum": 30, "type": "quantitative"},
        "y2": {"datum": 47.05}
      }
    },
    {
      "data": {"name": "events"},
      "mark": {"type": "text", "angle": 270, "align": "left", "baseline": "middle", "dx": 1, "font": "DejaVu Sans Mono", "fontSize": 10, "color": "black"},
      "encoding": {
        "x": {"field": "t", "type": "temporal"},
        "y": {"datum": 47.4, "type": "quantitative"},
        "text": {"field": "e"}
      }
    }
  ]
}
